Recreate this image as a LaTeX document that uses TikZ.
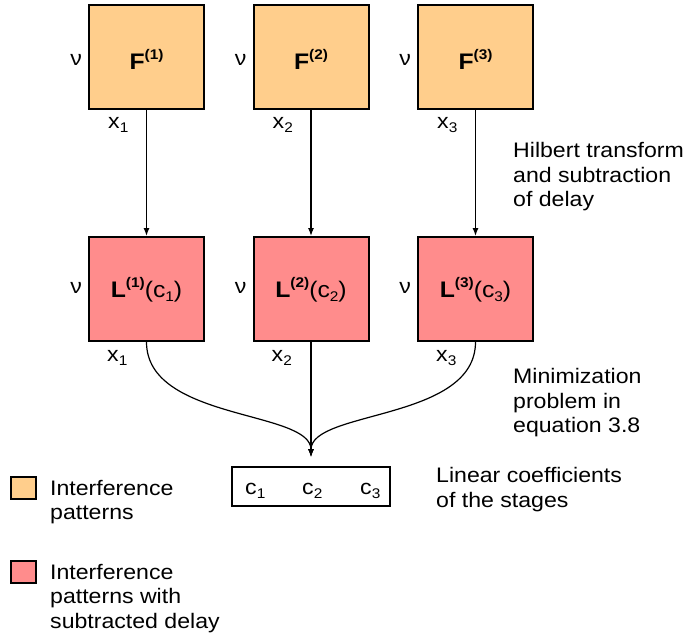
\documentclass[tikz,border=0pt]{standalone}
\usepackage{fontspec}
\setmainfont{Liberation Sans}[FakeStretch=1.1]
\usetikzlibrary{arrows.meta}
\definecolor{fcol}{RGB}{255,206,140}
\definecolor{lcol}{RGB}{255,140,140}
\newcommand{\mysub}[1]{\raisebox{-4pt}{\fontsize{14}{14}\selectfont #1}}
\newcommand{\mysup}[1]{\raisebox{10pt}{\fontsize{14}{14}\selectfont\bfseries #1}}
\newcommand{\lblsize}{\fontsize{22.5}{22.5}\selectfont}
\begin{document}
\begin{tikzpicture}[x=1pt,y=-1pt,
  font=\fontsize{21}{24.5}\selectfont,
  stage/.style={draw, line width=2pt, minimum width=115pt, minimum height=104pt, inner sep=0pt},
  fstage/.style={stage, fill=fcol},
  lstage/.style={stage, fill=lcol},
  txt/.style={inner sep=0pt, anchor=base west, align=left},
  ctr/.style={inner sep=0pt, anchor=base},
  lab/.style={inner sep=0pt, anchor=base east},
  arr/.style={-{Latex[length=8pt,width=6pt]}, line width=1.2pt},
  legbox/.style={draw, line width=2pt, minimum width=25pt, minimum height=22pt, inner sep=0pt}]
\useasboundingbox (0,0) rectangle (690,637);

\foreach \i/\cx in {1/146.5, 2/311, 3/475.5} {
  \node[fstage] (F\i) at (\cx,57) {};
  \node[lstage] (L\i) at (\cx,289) {};
  \node[ctr] (Ft\i) at (\cx,69) {{\lblsize\bfseries F}\mysup{(\i)}};
  \node[ctr] (Lt\i) at (\cx,297) {{\lblsize\bfseries L}\mysup{(\i)}{\lblsize(c\mysub{\i})}};
  \node[lab] (Fn\i) at (\cx-64.5,65) {ν};
  \node[lab] (Ln\i) at (\cx-64.5,293) {ν};
  \node[txt] (Fx\i) at (\cx-38.5,128) {x\mysub{\i}};
  \node[txt] (Lx\i) at (\cx-39.5,361) {x\mysub{\i}};
  \draw[arr] (F\i.south) -- (L\i.north);
}

\node[draw, line width=1.5pt, minimum width=158pt, minimum height=39pt, inner sep=0pt] (C) at (311,486.5) {};
\node[txt] (c1) at (245,494) {c\mysub{1}};
\node[txt] (c2) at (302,494) {c\mysub{2}};
\node[txt] (c3) at (360,494) {c\mysub{3}};

\coordinate (tip) at (311,457);
\draw[arr] (L1.south) .. controls +(0,79) and +(0,-47) .. (tip);
\draw[arr] (L3.south) .. controls +(0,79) and +(0,-47) .. (tip);
\draw[arr] (L2.south) -- (tip);

% multi-line nodes: base anchor is the baseline of the last line
\node[txt] (t1) at (513,206.5) {Hilbert transform\\and subtraction\\of delay};
\node[txt] (t2) at (513,432.7) {Minimization\\problem in\\equation 3.8};
\node[txt] (t3) at (436,507.3) {Linear coefficients\\of the stages};

\node[legbox, fill=fcol] (k1) at (23.5,487.5) {};
\node[legbox, fill=lcol] (k2) at (23.5,572) {};
\node[txt] (k1t) at (50,519.5) {Interference\\patterns};
\node[txt] (k2t) at (50,628) {Interference\\patterns with\\subtracted delay};
\end{tikzpicture}
\end{document}
